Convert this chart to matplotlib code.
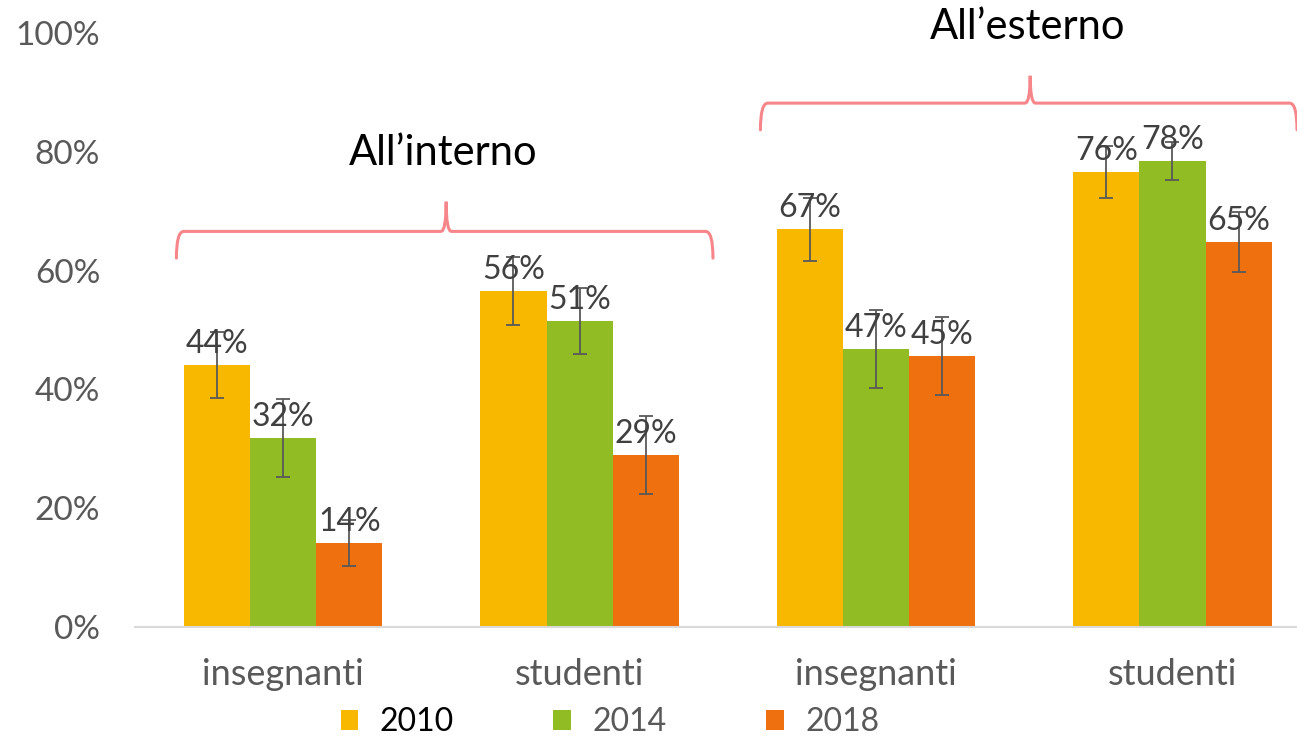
import numpy as np
import matplotlib.pyplot as plt
from matplotlib.path import Path
from matplotlib.patches import PathPatch

plt.rcParams['font.family'] = ['Lato', 'DejaVu Sans']

categorie = ['insegnanti', 'studenti', 'insegnanti', 'studenti']
anni = ['2010', '2014', '2018']
valori = {
    '2010': [44.1, 56.6, 67.0, 76.6],
    '2014': [31.8, 51.5, 46.8, 78.5],
    '2018': [14.1, 29.0, 45.6, 64.8],
}
errori = {
    '2010': [5.6, 5.7, 5.3, 4.4],
    '2014': [6.5, 5.5, 6.6, 3.2],
    '2018': [3.9, 6.6, 6.6, 5.1],
}
etichette = {
    '2010': ['44%', '56%', '67%', '76%'],
    '2014': ['32%', '51%', '47%', '78%'],
    '2018': ['14%', '29%', '45%', '65%'],
}
colori = ['#F9B800', '#92BC24', '#EE700E']
gruppi = ["All\u2019interno", "All\u2019esterno"]

brace_col = '#F7868A'
grey = '#595959'


def brace(ax, x0, x1, xm, y_end, y_line, y_tip, dx=0.025, tw=0.018):
    verts = [(x0, y_end), (x0, y_line), (x0 + dx, y_line),
             (xm - tw, y_line),
             (xm, y_line), (xm, y_tip),
             (xm, y_line), (xm + tw, y_line),
             (x1 - dx, y_line),
             (x1, y_line), (x1, y_end)]
    codes = [Path.MOVETO, Path.CURVE3, Path.CURVE3,
             Path.LINETO,
             Path.CURVE3, Path.CURVE3,
             Path.CURVE3, Path.CURVE3,
             Path.LINETO,
             Path.CURVE3, Path.CURVE3]
    ax.add_patch(PathPatch(Path(verts, codes), fill=False, edgecolor=brace_col,
                           lw=2.2, clip_on=False, capstyle='round'))


fig = plt.figure(figsize=(12.97, 7.39), dpi=100)
ax = fig.add_axes([0.104, 0.1516, 0.896, 0.8037])

x = np.arange(len(categorie))
w = 0.223
for i, anno in enumerate(anni):
    pos = x + (i - 1) * w
    ax.bar(pos, valori[anno], width=w, color=colori[i], label=anno, zorder=2)
    ax.errorbar(pos, valori[anno], yerr=errori[anno], fmt='none', ecolor='#595959',
                elinewidth=1.3, capsize=5, capthick=1.3, zorder=3)
    for px, v, t in zip(pos, valori[anno], etichette[anno]):
        ax.text(px, v + 1.0, t, ha='center', va='bottom', fontsize=23, color='#404040', zorder=4)

ax.set_xlim(-0.5, 3.42)
ax.set_ylim(0, 100)
ax.set_yticks(np.arange(0, 101, 20))
ax.set_yticklabels([f'{v}%' for v in range(0, 101, 20)])
ax.set_xticks(x)
ax.set_xticklabels(categorie)
ax.tick_params(axis='y', length=0, pad=25, labelsize=24, labelcolor=grey)
ax.tick_params(axis='x', length=0, pad=22, labelsize=26, labelcolor=grey)
for s in ['top', 'right', 'left']:
    ax.spines[s].set_visible(False)
ax.spines['bottom'].set_color('#D9D9D9')
ax.spines['bottom'].set_linewidth(1.5)

brace(ax, -0.36, 1.45, 0.55, 62.1, 66.6, 71.6)
brace(ax, 1.61, 3.42, 2.52, 83.7, 88.2, 92.8)
ax.text(0.54, 79.8, gruppi[0], ha='center', va='center', fontsize=30, color='black')
ax.text(2.51, 101.0, gruppi[1], ha='center', va='center', fontsize=30, color='black',
        clip_on=False)

leg = ax.legend(loc='upper left', bbox_to_anchor=(0.166, -0.114), ncol=3, frameon=False,
                fontsize=23, handlelength=0.56, handleheight=0.56, handletextpad=0.66,
                columnspacing=3.12, borderaxespad=0)
for t, c in zip(leg.get_texts(), ['black', grey, grey]):
    t.set_color(c)

fig.savefig('out.png', dpi=100)
